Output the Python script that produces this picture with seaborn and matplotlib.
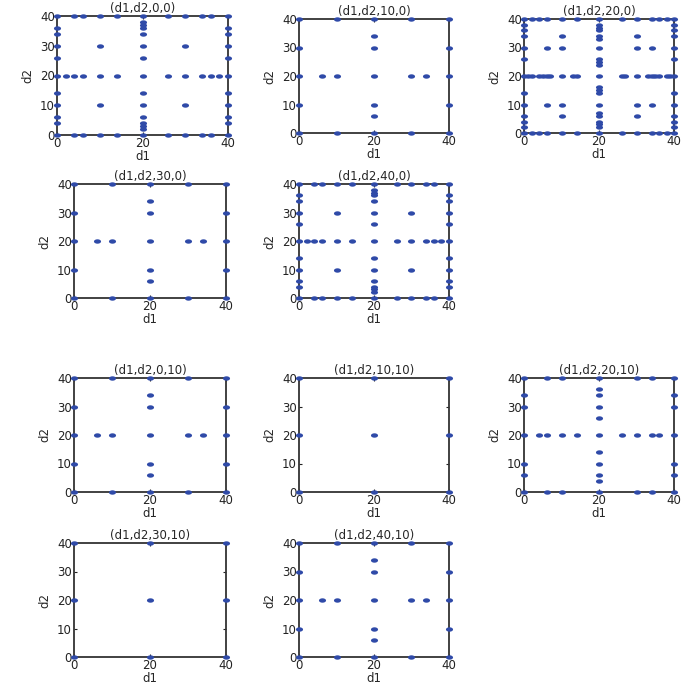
import numpy as np
import pandas as pd
import seaborn as sns
import matplotlib.pyplot as plt
from matplotlib.path import Path

# ---- point sets (d1, d2 coordinates) ----
# pattern A: (d1,d2,0,0) and (d1,d2,40,0)
a_edge = [0, 4, 6, 10, 14, 20, 26, 30, 34, 36, 40]
a_col20 = [0, 2, 3, 4, 6, 10, 14, 20, 26, 30, 34, 36, 37, 38, 40]
a_row20 = [0, 2, 4, 6, 10, 14, 20, 26, 30, 34, 36, 38, 40]
a_inner = [(10, 10), (10, 30), (30, 10), (30, 30)]

# pattern B: (10,0), (30,0), (0,10), (40,10)
b_edge = [0, 10, 20, 30, 40]
b_col20 = [0, 6, 10, 20, 30, 34, 40]
b_row20 = [0, 6, 10, 20, 30, 34, 40]
b_inner = []

# pattern C: (20,0)
c_edge = [0, 2, 4, 6, 10, 14, 20, 26, 30, 34, 36, 38, 40]
c_col20 = [0, 2, 3, 4, 6, 7, 10, 14, 15, 16, 20, 24, 25, 26, 30, 33, 34, 36, 37, 38, 40]
c_row20 = [0, 1, 2, 4, 5, 6, 7, 10, 13, 14, 20, 26, 27, 30, 33, 34, 35, 36, 38, 39, 40]
c_inner = [(10, 34), (30, 34), (6, 30), (10, 30), (30, 30), (34, 30),
           (6, 10), (10, 10), (30, 10), (34, 10), (10, 6), (30, 6)]

# pattern D: (10,10), (30,10)
d_edge = [0, 20, 40]
d_col20 = [0, 20, 40]
d_row20 = [0, 20, 40]
d_inner = []

# pattern E: (20,10)
e_edge = [0, 6, 10, 20, 30, 34, 40]
e_col20 = [0, 4, 6, 10, 14, 20, 26, 30, 34, 36, 40]
e_row20 = [0, 4, 6, 10, 14, 20, 26, 30, 34, 36, 40]
e_inner = []

titles = ["(d1,d2,0,0)", "(d1,d2,10,0)", "(d1,d2,20,0)", "(d1,d2,30,0)", "(d1,d2,40,0)",
          "(d1,d2,0,10)", "(d1,d2,10,10)", "(d1,d2,20,10)", "(d1,d2,30,10)", "(d1,d2,40,10)"]
patterns = ["A", "B", "C", "B", "A", "B", "D", "E", "D", "B"]

pattern_data = {
    "A": (a_edge, a_col20, a_row20, a_inner),
    "B": (b_edge, b_col20, b_row20, b_inner),
    "C": (c_edge, c_col20, c_row20, c_inner),
    "D": (d_edge, d_col20, d_row20, d_inner),
    "E": (e_edge, e_col20, e_row20, e_inner),
}


def build_points(edge, col20, row20, inner):
    pts = set()
    for v in edge:
        pts.update({(v, 0), (v, 40), (0, v), (40, v)})
    for v in col20:
        pts.add((20, v))
    for v in row20:
        pts.add((v, 20))
    pts.update(inner)
    return pd.DataFrame(sorted(pts), columns=["d1", "d2"])


# axes boxes in pixels: left, right, top, bottom
boxes = [(57, 228, 16, 135), (299, 449, 19, 133), (524, 674, 19, 133),
         (74, 226, 184, 298), (299, 449, 184, 298),
         (74, 226, 378, 492), (299, 449, 378, 492), (524, 674, 378, 492),
         (74, 226, 543, 657), (299, 449, 543, 657)]

sns.set_style("white")
plt.rcParams["font.family"] = ["DejaVu Sans"]

W = H = 685
fig = plt.figure(figsize=(6.85, 6.85), dpi=100)

# squashed-circle marker like the original
t = np.linspace(0, 2 * np.pi, 40)
ellipse = Path(np.column_stack([np.cos(t), 0.62 * np.sin(t)]), closed=True)

for title, pat, (l, r, tp, bt) in zip(titles, patterns, boxes):
    ax = fig.add_axes([l / W, 1 - bt / H, (r - l) / W, (bt - tp) / H])
    ax.set_axisbelow(True)
    df = build_points(*pattern_data[pat])
    sns.scatterplot(data=df, x="d1", y="d2", ax=ax, marker=ellipse, s=26,
                    color="#2f4aa8", edgecolor="#2f4aa8", linewidth=0,
                    clip_on=False, zorder=3)
    ax.set_xlim(0, 40)
    ax.set_ylim(0, 40)
    ax.set_xticks([0, 20, 40])
    ax.set_yticks([0, 10, 20, 30, 40])
    ax.tick_params(direction="in", length=2.5, width=0.8, labelsize=8.5,
                   top=True, right=True, bottom=True, left=True,
                   colors="#222222", pad=1.5)
    for sp in ax.spines.values():
        sp.set_color("#333333")
        sp.set_linewidth(1.3)
    ax.set_title(title, fontsize=8.5, pad=3)
    ax.set_xlabel("d1", fontsize=8.5, labelpad=0)
    ax.set_ylabel("d2", fontsize=8.5, labelpad=4)

fig.savefig("out.png", dpi=100)
